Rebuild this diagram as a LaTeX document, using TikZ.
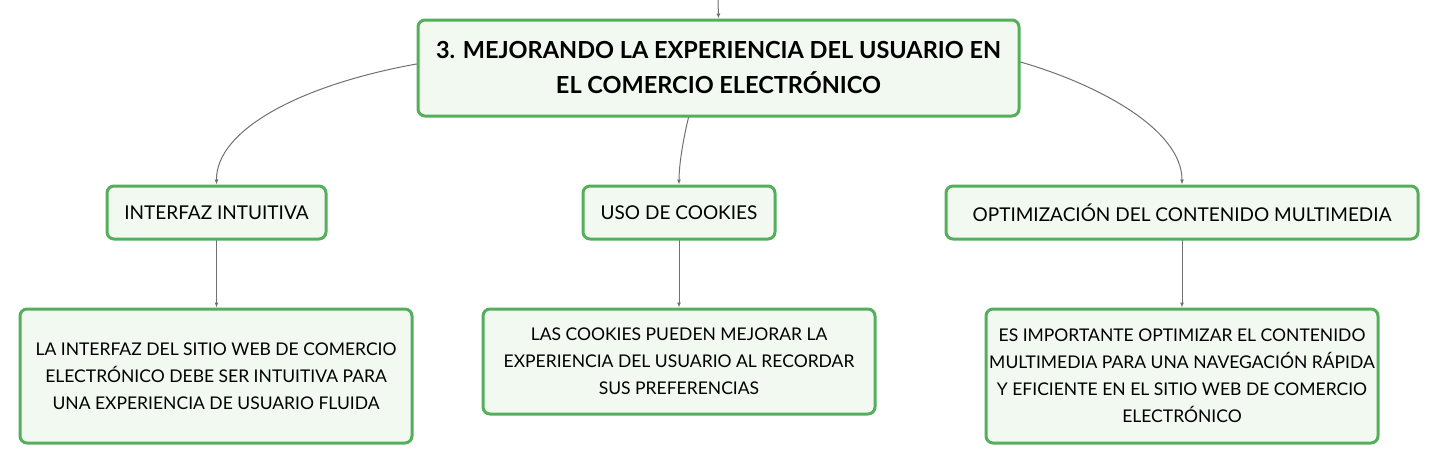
\documentclass[tikz,border=0pt]{standalone}
\usepackage{fontspec}
\setmainfont{Lato}
\usetikzlibrary{arrows.meta}
\definecolor{verde}{HTML}{55AE5C}
\definecolor{fondo}{HTML}{F1F9F1}
\definecolor{linea}{HTML}{707070}
\tikzset{
  caja/.style={draw=verde, line width=3pt, fill=fondo, rounded corners=7pt, align=center, inner sep=0pt},
  rama/.style={draw=linea, line width=1pt, -{Latex[length=5pt,width=4pt]}}
}
\begin{document}
\begin{tikzpicture}[x=1pt,y=-1pt, line cap=round, line join=round]
			\useasboundingbox (0,0) rectangle (1439,464);
			\def\hoja{\fontsize{17.5}{27}\selectfont}
			\def\tema{\fontsize{19}{27}\selectfont}
			\node[caja, minimum width=601pt, minimum height=96pt, font=\bfseries\fontsize{23.5}{35}\selectfont] (tit) at (718.5,68) {3. MEJORANDO LA EXPERIENCIA DEL USUARIO EN\\EL COMERCIO ELECTRÓNICO};
			\coordinate (arriba) at (718,0);
			\node[caja, minimum width=219pt, minimum height=53pt, font=\tema] (int) at (216.5,212.5) {INTERFAZ INTUITIVA};
			\node[caja, minimum width=192pt, minimum height=53pt, font=\tema] (coo) at (679,212.5) {USO DE COOKIES};
			\node[caja, minimum width=472pt, minimum height=53pt, font=\tema] (opt) at (1182,212.5) {OPTIMIZACIÓN DEL CONTENIDO MULTIMEDIA};
			\node[caja, minimum width=392pt, minimum height=134pt, font=\hoja] (h1) at (216,376) {LA INTERFAZ DEL SITIO WEB DE COMERCIO\\ELECTRÓNICO DEBE SER INTUITIVA PARA\\UNA EXPERIENCIA DE USUARIO FLUIDA};
			\node[caja, minimum width=392pt, minimum height=105pt, font=\hoja] (h2) at (679,361.5) {LAS COOKIES PUEDEN MEJORAR LA\\EXPERIENCIA DEL USUARIO AL RECORDAR\\SUS PREFERENCIAS};
			\node[caja, minimum width=392pt, minimum height=134pt, font=\hoja] (h3) at (1182,376) {ES IMPORTANTE OPTIMIZAR EL CONTENIDO\\MULTIMEDIA PARA UNA NAVEGACIÓN RÁPIDA\\Y EFICIENTE EN EL SITIO WEB DE COMERCIO\\ELECTRÓNICO};
			% ramas
			\draw[rama] (arriba) -- (tit.north);
			\draw[rama] ([yshift=4pt]tit.west) .. controls (300,85) and (216,130) .. (int.north);
			\draw[rama] ([xshift=-30pt]tit.south) .. controls (683,140) and (679,165) .. (coo.north);
			\draw[rama] ([yshift=6pt]tit.east) .. controls (1100,85) and (1182,130) .. (opt.north);
			\draw[rama] (int.south) -- (int.south |- h1.north);
			\draw[rama] (coo.south) -- (coo.south |- h2.north);
			\draw[rama] (opt.south) -- (opt.south |- h3.north);
		\end{tikzpicture}
\end{document}
